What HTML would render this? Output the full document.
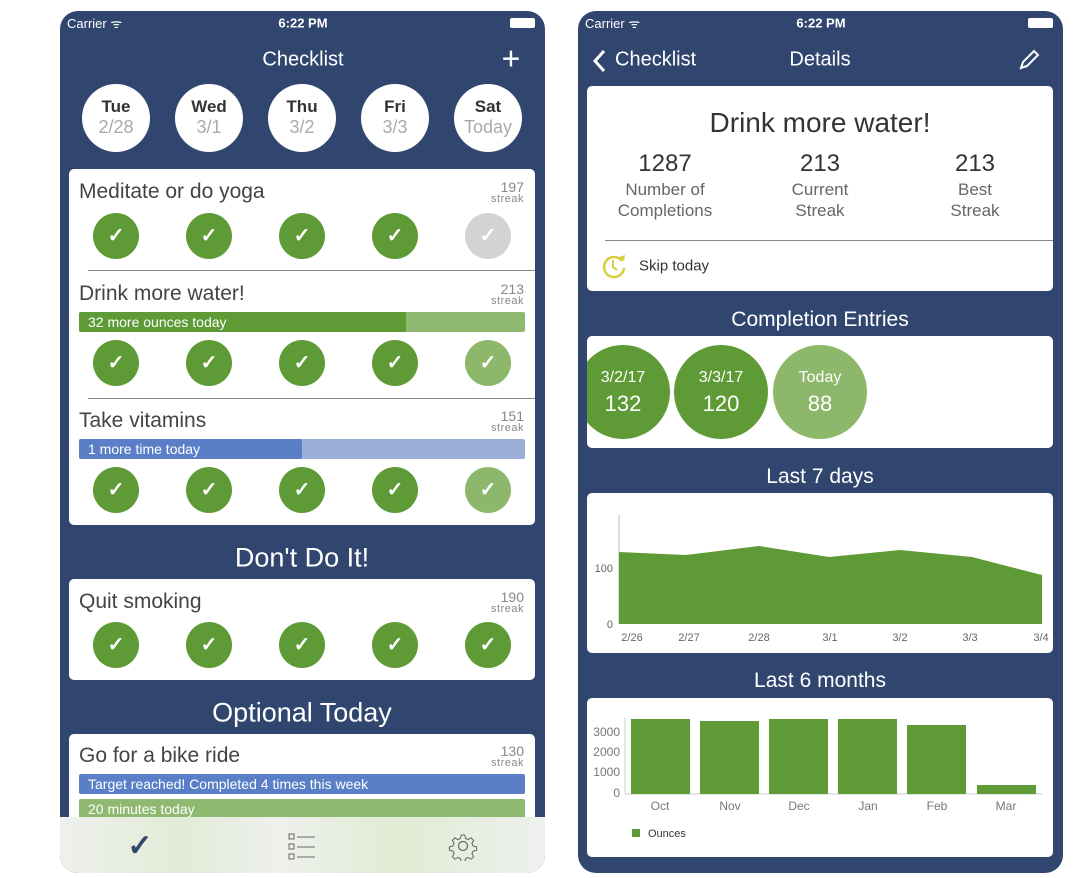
<!DOCTYPE html>
<html><head><meta charset="utf-8"><style>
*{margin:0;padding:0;box-sizing:border-box}
body{width:1080px;height:878px;background:#fff;position:relative;overflow:hidden;font-family:"Liberation Sans",sans-serif}
.a{position:absolute}
.ph{position:absolute;background:#31466f;border-radius:18px;overflow:hidden}
.t{position:absolute;white-space:nowrap;transform:translate(-50%,-50%)}
.l{position:absolute;white-space:nowrap;transform:translateY(-50%)}
.card{position:absolute;background:#fff;border-radius:5px}
.day{position:absolute;width:68px;height:68px;border-radius:50%;background:#fff;text-align:center}
.ck{position:absolute;width:46px;height:46px;border-radius:50%;background:#5e9a35;color:#fff;font-size:20px;font-weight:bold;line-height:46px;text-align:center;transform:translate(-50%,-50%)}
.g{background:#d3d3d3}.lg{background:#8db86c}
.st{position:absolute;text-align:right;color:#888;font-size:14px;line-height:12px}
.st small{display:block;font-size:11px;letter-spacing:.5px}
.bar{position:absolute;height:20px;border-radius:2px;color:#fff;font-size:14px;line-height:20px;padding-left:9px;white-space:nowrap;overflow:hidden}
</style></head><body>

<!-- LEFT PHONE -->
<div class="ph" style="left:60px;top:11px;width:485px;height:862px"></div>
<div class="l" style="left:67px;top:23px;color:#fff;font-size:13px">Carrier ᯤ</div>
<div class="t" style="left:303px;top:23px;color:#fff;font-size:13px;font-weight:bold">6:22 PM</div>
<div class="a" style="left:510px;top:18px;width:25px;height:10px;background:#fff;border-radius:2px"></div>
<div class="t" style="left:303px;top:60px;color:#fff;font-size:20px">Checklist</div>
<div class="t" style="left:511px;top:59px;color:#fff;font-size:32px;font-weight:200">+</div>

<div class="day" style="left:82px;top:84px"><div style="font-size:17px;font-weight:bold;color:#333;margin-top:13px">Tue</div><div style="font-size:18px;color:#aaa">2/28</div></div>
<div class="day" style="left:175px;top:84px"><div style="font-size:17px;font-weight:bold;color:#333;margin-top:13px">Wed</div><div style="font-size:18px;color:#aaa">3/1</div></div>
<div class="day" style="left:268px;top:84px"><div style="font-size:17px;font-weight:bold;color:#333;margin-top:13px">Thu</div><div style="font-size:18px;color:#aaa">3/2</div></div>
<div class="day" style="left:361px;top:84px"><div style="font-size:17px;font-weight:bold;color:#333;margin-top:13px">Fri</div><div style="font-size:18px;color:#aaa">3/3</div></div>
<div class="day" style="left:454px;top:84px"><div style="font-size:17px;font-weight:bold;color:#333;margin-top:13px">Sat</div><div style="font-size:18px;color:#aaa">Today</div></div>

<div class="card" style="left:69px;top:169px;width:466px;height:356px"></div>
<div class="l" style="left:79px;top:192px;font-size:21px;color:#444">Meditate or do yoga</div>
<div class="st" style="right:556px;top:181px">197<small>streak</small></div>
<div class="ck" style="left:116px;top:236px">✓</div><div class="ck" style="left:209px;top:236px">✓</div><div class="ck" style="left:302px;top:236px">✓</div><div class="ck" style="left:395px;top:236px">✓</div><div class="ck g" style="left:488px;top:236px">✓</div>
<div class="a" style="left:88px;top:270px;width:447px;height:1px;background:#888"></div>
<div class="l" style="left:79px;top:294px;font-size:21px;color:#444">Drink more water!</div>
<div class="st" style="right:556px;top:283px">213<small>streak</small></div>
<div class="bar" style="left:79px;top:312px;width:446px;background:#8fb870"></div>
<div class="bar" style="left:79px;top:312px;width:327px;background:#5e9a35;overflow:visible">32 more ounces today</div>
<div class="ck" style="left:116px;top:363px">✓</div><div class="ck" style="left:209px;top:363px">✓</div><div class="ck" style="left:302px;top:363px">✓</div><div class="ck" style="left:395px;top:363px">✓</div><div class="ck lg" style="left:488px;top:363px">✓</div>
<div class="a" style="left:88px;top:398px;width:447px;height:1px;background:#888"></div>
<div class="l" style="left:79px;top:421px;font-size:21px;color:#444">Take vitamins</div>
<div class="st" style="right:556px;top:410px">151<small>streak</small></div>
<div class="bar" style="left:79px;top:439px;width:446px;background:#9aaed8"></div>
<div class="bar" style="left:79px;top:439px;width:223px;background:#5b7fc7;overflow:visible">1 more time today</div>
<div class="ck" style="left:116px;top:490px">✓</div><div class="ck" style="left:209px;top:490px">✓</div><div class="ck" style="left:302px;top:490px">✓</div><div class="ck" style="left:395px;top:490px">✓</div><div class="ck lg" style="left:488px;top:490px">✓</div>

<div class="t" style="left:302px;top:558px;color:#fff;font-size:27px">Don't Do It!</div>
<div class="card" style="left:69px;top:579px;width:466px;height:101px"></div>
<div class="l" style="left:79px;top:602px;font-size:21px;color:#444">Quit smoking</div>
<div class="st" style="right:556px;top:591px">190<small>streak</small></div>
<div class="ck" style="left:116px;top:645px">✓</div><div class="ck" style="left:209px;top:645px">✓</div><div class="ck" style="left:302px;top:645px">✓</div><div class="ck" style="left:395px;top:645px">✓</div><div class="ck" style="left:488px;top:645px">✓</div>

<div class="t" style="left:302px;top:713px;color:#fff;font-size:27px">Optional Today</div>
<div class="card" style="left:69px;top:734px;width:466px;height:100px"></div>
<div class="l" style="left:79px;top:756px;font-size:21px;color:#444">Go for a bike ride</div>
<div class="st" style="right:556px;top:745px">130<small>streak</small></div>
<div class="bar" style="left:79px;top:774px;width:446px;background:#5b7fc7">Target reached! Completed 4 times this week</div>
<div class="bar" style="left:79px;top:799px;width:446px;background:#8fb870">20 minutes today</div>
<div class="a" style="left:60px;top:817px;width:485px;height:56px;background:linear-gradient(90deg,#eef0ec,#e2ecd8 25%,#eef0ec 45%,#e0ecd4 70%,#eef0ee);border-radius:0 0 18px 18px"></div>
<div class="t" style="left:140px;top:846px;color:#31466f;font-size:30px;font-weight:bold">✓</div>
<svg class="a" style="left:288px;top:833px" width="30" height="28"><g fill="none" stroke="#666" stroke-width="1"><rect x="1" y="1" width="5" height="5"/><rect x="1" y="11" width="5" height="5"/><rect x="1" y="21" width="5" height="5"/><path d="M9 4h18M9 14h18M9 24h18"/></g></svg>
<svg class="a" style="left:448px;top:831px" width="30" height="30"><g fill="none" stroke="#666" stroke-width="1.2"><circle cx="15" cy="15" r="4.5"/><path d="M13 2h4l1 4 3 1.5 3.5-2 3 3-2 3.5 1.5 3 4 1v4l-4 1-1.5 3 2 3.5-3 3-3.5-2-3 1.5-1 4h-4l-1-4-3-1.5-3.5 2-3-3 2-3.5-1.5-3-4-1v-4l4-1 1.5-3-2-3.5 3-3 3.5 2 3-1.5z" transform="translate(15 15) scale(.85) translate(-15 -15)"/></g></svg>

<!-- RIGHT PHONE -->
<div class="ph" style="left:578px;top:11px;width:485px;height:862px"></div>
<div class="l" style="left:585px;top:23px;color:#fff;font-size:13px">Carrier ᯤ</div>
<div class="t" style="left:821px;top:23px;color:#fff;font-size:13px;font-weight:bold">6:22 PM</div>
<div class="a" style="left:1028px;top:18px;width:25px;height:10px;background:#fff;border-radius:2px"></div>
<svg class="a" style="left:591px;top:49px" width="16" height="24"><path d="M13 2L4 12l9 10" fill="none" stroke="#fff" stroke-width="3"/></svg>
<div class="l" style="left:615px;top:60px;color:#fff;font-size:20px">Checklist</div>
<div class="t" style="left:820px;top:60px;color:#fff;font-size:20px">Details</div>
<svg class="a" style="left:1017px;top:48px" width="24" height="24"><path d="M4 20l2-6L17 3l4 4-11 11z" fill="none" stroke="#fff" stroke-width="2"/></svg>

<div class="card" style="left:587px;top:86px;width:466px;height:205px"></div>
<div class="t" style="left:820px;top:123px;font-size:28px;color:#333">Drink more water!</div>
<div class="t" style="left:665px;top:164px;font-size:24px;color:#333">1287</div>
<div class="t" style="left:820px;top:164px;font-size:24px;color:#333">213</div>
<div class="t" style="left:975px;top:164px;font-size:24px;color:#333">213</div>
<div class="t" style="left:665px;top:200px;font-size:17px;color:#666;text-align:center;line-height:21px">Number of<br>Completions</div>
<div class="t" style="left:820px;top:200px;font-size:17px;color:#666;text-align:center;line-height:21px">Current<br>Streak</div>
<div class="t" style="left:975px;top:200px;font-size:17px;color:#666;text-align:center;line-height:21px">Best<br>Streak</div>
<div class="a" style="left:605px;top:240px;width:448px;height:1px;background:#888"></div>
<svg class="a" style="left:600px;top:252px" width="28" height="28"><path d="M22 9A10 10 0 1 0 24 16" fill="none" stroke="#d6cf3c" stroke-width="2.5"/><path d="M13 8v7l4 3" fill="none" stroke="#d6cf3c" stroke-width="2"/><path d="M19 5l5 4 1-6z" fill="#d6cf3c"/></svg>
<div class="l" style="left:639px;top:266px;font-size:15px;color:#333">Skip today</div>

<div class="t" style="left:820px;top:320px;color:#fff;font-size:21px">Completion Entries</div>
<div class="card" style="left:587px;top:336px;width:466px;height:112px;overflow:hidden">
<div class="a" style="left:-11px;top:9px;width:94px;height:94px;border-radius:50%;background:#5e9a35"></div>
<div class="a" style="left:87px;top:9px;width:94px;height:94px;border-radius:50%;background:#5e9a35"></div>
<div class="a" style="left:186px;top:9px;width:94px;height:94px;border-radius:50%;background:#8db86c"></div>
</div>
<div class="t" style="left:623px;top:378px;color:#fff;font-size:16px">3/2/17</div>
<div class="t" style="left:623px;top:404px;color:#fff;font-size:22px">132</div>
<div class="t" style="left:721px;top:378px;color:#fff;font-size:16px">3/3/17</div>
<div class="t" style="left:721px;top:404px;color:#fff;font-size:22px">120</div>
<div class="t" style="left:820px;top:378px;color:#fff;font-size:16px">Today</div>
<div class="t" style="left:820px;top:404px;color:#fff;font-size:22px">88</div>

<div class="t" style="left:820px;top:477px;color:#fff;font-size:21px">Last 7 days</div>
<div class="card" style="left:587px;top:493px;width:466px;height:160px"></div>
<svg class="a" style="left:587px;top:493px" width="466" height="160">
<line x1="32" y1="22" x2="32" y2="131" stroke="#bbb"/>
<path d="M32 59L99 62L172 53L242 64L313 57L385 64L455 82L455 131L32 131Z" fill="#5e9a35"/>
<g font-family="Liberation Sans" font-size="11" fill="#666">
<text x="26" y="79" text-anchor="end">100</text><text x="26" y="135" text-anchor="end">0</text>
<text x="45" y="148" text-anchor="middle">2/26</text><text x="102" y="148" text-anchor="middle">2/27</text><text x="172" y="148" text-anchor="middle">2/28</text><text x="243" y="148" text-anchor="middle">3/1</text><text x="313" y="148" text-anchor="middle">3/2</text><text x="383" y="148" text-anchor="middle">3/3</text><text x="454" y="148" text-anchor="middle">3/4</text></g>
</svg>

<div class="t" style="left:820px;top:681px;color:#fff;font-size:21px">Last 6 months</div>
<div class="card" style="left:587px;top:698px;width:466px;height:159px"></div>
<svg class="a" style="left:587px;top:698px" width="466" height="159">
<line x1="38" y1="20" x2="38" y2="96" stroke="#ccc"/><line x1="38" y1="96" x2="455" y2="96" stroke="#ccc"/>
<g fill="#5e9a35">
<rect x="44" y="21" width="59" height="75"/><rect x="113" y="23" width="59" height="73"/><rect x="182" y="21" width="59" height="75"/><rect x="251" y="21" width="59" height="75"/><rect x="320" y="27" width="59" height="69"/><rect x="390" y="87" width="59" height="9"/>
<rect x="45" y="131" width="8" height="8"/></g>
<g font-family="Liberation Sans" font-size="12" fill="#777">
<text x="33" y="38" text-anchor="end">3000</text><text x="33" y="58" text-anchor="end">2000</text><text x="33" y="78" text-anchor="end">1000</text><text x="33" y="99" text-anchor="end">0</text>
<text x="73" y="112" text-anchor="middle">Oct</text><text x="143" y="112" text-anchor="middle">Nov</text><text x="212" y="112" text-anchor="middle">Dec</text><text x="281" y="112" text-anchor="middle">Jan</text><text x="350" y="112" text-anchor="middle">Feb</text><text x="419" y="112" text-anchor="middle">Mar</text>
<text x="61" y="139" font-size="11" fill="#333">Ounces</text></g>
</svg>
</body></html>
